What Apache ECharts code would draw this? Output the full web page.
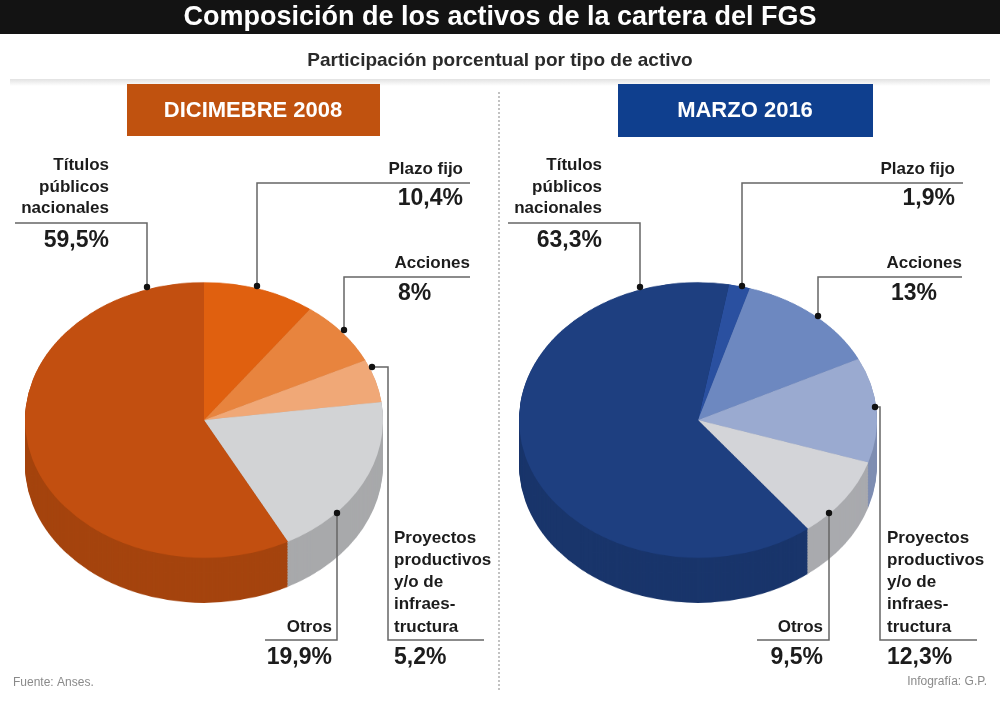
<!DOCTYPE html>
<html>
<head>
<meta charset="utf-8">
<title>Composición de los activos de la cartera del FGS</title>
<script src="https://cdn.jsdelivr.net/npm/echarts@6/dist/echarts.min.js"></script>
<style>
html, body { margin: 0; padding: 0; background: #fff; }
#wrap { position: relative; width: 1000px; height: 701px; overflow: hidden; }
/* pies are drawn round and squashed vertically to get the tilted look */
#pies { position: absolute; left: 0; top: 0; width: 1000px; height: 910px; transform: scaleY(0.77); transform-origin: 0 0; }
#labels { position: absolute; left: 0; top: 0; width: 1000px; height: 701px; }
</style>
</head>
<body>
<div id="wrap">
    <div id="pies"></div>
    <div id="labels"></div>
</div>
<script>
// data
const categories = ['Títulos públicos nacionales', 'Plazo fijo', 'Acciones', 'Proyectos productivos y/o de infraestructura', 'Otros'];
const dic2008 = [59.5, 10.4, 8, 5.2, 19.9];
const mar2016 = [63.3, 1.9, 13, 12.3, 9.5];
const valueLabels2008 = ['59,5%', '10,4%', '8%', '5,2%', '19,9%'];
const valueLabels2016 = ['63,3%', '1,9%', '13%', '12,3%', '9,5%'];
// clockwise order from the start angle
const sliceOrder = [1, 2, 3, 4, 0];

const top2008 = ['#c24f10', '#e0600f', '#e8843e', '#f0a877', '#d2d3d5'];
const side2008 = ['#a5440e', '#c0520c', '#c87034', '#cf9064', '#a8a9ab'];
const top2016 = ['#1e3f80', '#2a50a0', '#6d88c0', '#9aaad0', '#d3d4d8'];
const side2016 = ['#19356b', '#234488', '#5a72a3', '#7f8eb2', '#a9aaae'];

const squash = 0.77;
const pieR = 179;
const pieCY = 420 / squash;
const depth = 45 / squash;

function pieLayers(values, topColors, sideColors, cx, startAngle) {
    const list = [];
    const make = (dy, colors) => ({
        type: 'pie',
        silent: true,
        animation: false,
        radius: pieR,
        center: [cx, pieCY + dy],
        startAngle: startAngle,
        clockwise: true,
        label: { show: false },
        labelLine: { show: false },
        itemStyle: { borderWidth: 0 },
        data: sliceOrder.map(i => ({ name: categories[i], value: values[i], itemStyle: { color: colors[i] } }))
    });
    for (let d = depth; d > 0; d -= 2) list.push(make(d, sideColors));
    list.push(make(0, topColors));
    return list;
}

let pieChart = echarts.init(document.getElementById('pies'));
pieChart.setOption({
    animation: false,
    series: [].concat(
        pieLayers(dic2008, top2008, side2008, 204, 90),
        pieLayers(mar2016, top2016, side2016, 698, 80)
    )
});

// text and leader lines
const FONT = '"Liberation Sans", Arial, sans-serif';
function txt(text, x, y, size, align, opts) {
    opts = opts || {};
    return {
        type: 'text',
        silent: true,
        style: {
            text: text, x: x, y: y,
            fill: opts.color || '#1c1c1c',
            font: (opts.weight || 'bold') + ' ' + size + 'px ' + FONT,
            textAlign: align,
            textVerticalAlign: opts.va || 'middle',
            lineHeight: opts.lh
        }
    };
}
function line(points, color) {
    return { type: 'polyline', silent: true, shape: { points: points }, style: { stroke: color || '#555', lineWidth: 1.5, fill: null } };
}
function dot(x, y) {
    return { type: 'circle', silent: true, shape: { cx: x, cy: y, r: 3.2 }, style: { fill: '#111' } };
}

const g = [
    { type: 'rect', silent: true, shape: { x: 0, y: 0, width: 1000, height: 34 }, style: { fill: '#131313' } },
    txt('Composición de los activos de la cartera del FGS', 500, 18, 27, 'center', { color: '#fff' }),
    txt('Participación porcentual por tipo de activo', 500, 61, 19, 'center', { color: '#2a2a2a' }),
    { type: 'rect', silent: true, shape: { x: 10, y: 79, width: 980, height: 7 },
      style: { fill: new echarts.graphic.LinearGradient(0, 0, 0, 1, [{ offset: 0, color: '#e2e2e2' }, { offset: 1, color: '#ffffff' }]) } },
    { type: 'line', silent: true, shape: { x1: 499, y1: 92, x2: 499, y2: 692 }, style: { stroke: '#9a9a9a', lineWidth: 1.2, lineDash: [2, 2] } },

    { type: 'rect', silent: true, shape: { x: 127, y: 84, width: 253, height: 52 }, style: { fill: '#c0520f' } },
    txt('DICIMEBRE 2008', 253, 111, 22, 'center', { color: '#fff' }),
    { type: 'rect', silent: true, shape: { x: 618, y: 84, width: 255, height: 53 }, style: { fill: '#0f3f8e' } },
    txt('MARZO 2016', 745, 111, 22, 'center', { color: '#fff' }),

    txt('Fuente: Anses.', 13, 683, 12, 'left', { color: '#8a8a8a', weight: 'normal' }),
    txt('Infografía: G.P.', 987, 682, 12, 'right', { color: '#8a8a8a', weight: 'normal' })
];

function panelLabels(dx, vals, p) {
    return [
        // Titulos
        txt('Títulos\npúblicos\nnacionales', 109 + dx, 155, 17, 'right', { va: 'top', lh: 21.5 }),
        txt(vals[0], 109 + dx, 241, 23, 'right'),
        line([[15 + dx, 223], [p.tit[0], 223], p.tit], '#666'),
        dot(p.tit[0], p.tit[1]),
        // Plazo fijo
        txt('Plazo fijo', p.pfText, 169, 17, 'right'),
        txt(vals[1], p.pfText, 199, 23, 'right'),
        line([[p.pfEnd, 183], [p.pf[0], 183], p.pf], '#666'),
        dot(p.pf[0], p.pf[1]),
        // Acciones
        txt('Acciones', p.acEnd, 263, 17, 'right'),
        txt(vals[2], p.acPct, 294, 23, 'left'),
        line([[p.acEnd, 277], [p.ac[0], 277], p.ac], '#666'),
        dot(p.ac[0], p.ac[1]),
        // Proyectos
        txt('Proyectos\nproductivos\ny/o de\ninfraes-\ntructura', p.prText, 527, 17, 'left', { va: 'top', lh: 22.2 }),
        txt(vals[3], p.prText, 658, 23, 'left'),
        line([p.pr, [p.prX, p.pr[1]], [p.prX, 640], [p.prEnd, 640]], '#666'),
        dot(p.pr[0], p.pr[1]),
        // Otros
        txt('Otros', p.otText, 627, 17, 'right'),
        txt(vals[4], p.otText, 658, 23, 'right'),
        line([p.ot, [p.ot[0], 640], [p.otStart, 640]], '#666'),
        dot(p.ot[0], p.ot[1])
    ];
}

const labels2008 = panelLabels(0, valueLabels2008, {
    tit: [147, 287], pf: [257, 286], pfText: 463, pfEnd: 470,
    ac: [344, 330], acEnd: 470, acPct: 398,
    pr: [372, 367], prX: 388, prEnd: 484, prText: 394,
    ot: [337, 513], otStart: 265, otText: 332
});
const labels2016 = panelLabels(493, valueLabels2016, {
    tit: [640, 287], pf: [742, 286], pfText: 955, pfEnd: 963,
    ac: [818, 316], acEnd: 962, acPct: 891,
    pr: [875, 407], prX: 880, prEnd: 977, prText: 887,
    ot: [829, 513], otStart: 757, otText: 823
});

let labelChart = echarts.init(document.getElementById('labels'));
labelChart.setOption({
    animation: false,
    graphic: { elements: g.concat(labels2008, labels2016) }
});
</script>
</body>
</html>
